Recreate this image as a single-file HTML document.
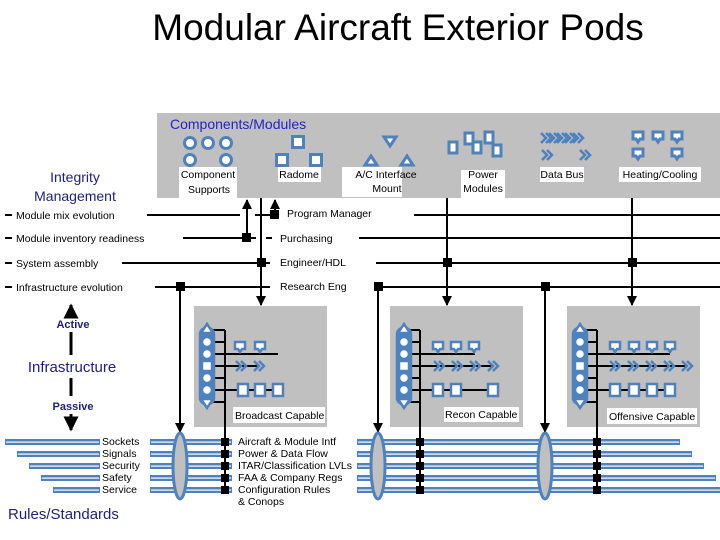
<!DOCTYPE html>
<html><head><meta charset="utf-8"><style>
html,body{margin:0;padding:0;background:#fff}
svg{display:block}
text{font-family:"Liberation Sans",sans-serif}
</style></head><body>
<svg id="s" width="720" height="540" viewBox="0 0 720 540" xmlns="http://www.w3.org/2000/svg">
<defs>
<marker id="ar" viewBox="0 0 10 10" refX="9" refY="5" markerWidth="5" markerHeight="5" orient="auto"><path d="M0,0L10,5L0,10z" fill="#000"/></marker>
</defs>
<text x="398" y="40" font-size="37" text-anchor="middle" fill="#000">Modular Aircraft Exterior Pods</text>
<rect x="157" y="113" width="563" height="85" fill="#c0c0c0"/>
<text x="170" y="129" font-size="14" fill="#2323c8">Components/Modules</text>
<g id="icons" stroke="#4f81bd" stroke-width="3" fill="#fff"></g>
<g font-size="10.5" fill="#000" text-anchor="middle">
<rect x="179" y="167" width="58" height="31" fill="#fff"/>
<text x="208" y="178">Component</text><text x="209" y="193">Supports</text>
<rect x="278" y="167" width="43" height="15" fill="#fff"/><text x="299" y="178">Radome</text>
<rect x="342" y="167" width="60" height="30" fill="#fff"/>
<text x="386" y="178">A/C Interface</text><text x="387" y="192">Mount</text>
<rect x="461" y="170" width="44" height="28" fill="#fff"/>
<text x="483" y="178">Power</text><text x="483" y="192">Modules</text>
<rect x="540" y="167" width="44" height="15" fill="#fff"/><text x="562" y="178">Data Bus</text>
<rect x="619" y="167" width="82" height="15" fill="#fff"/><text x="660" y="178">Heating/Cooling</text>
</g>
<g fill="#1f1f80" text-anchor="middle">
<text x="75" y="182" font-size="14">Integrity</text>
<text x="75" y="201" font-size="14">Management</text>
</g>
<g font-size="10.5" fill="#000">
<text x="16" y="219">Module mix evolution</text>
<text x="16" y="242">Module inventory readiness</text>
<text x="16" y="267">System assembly</text>
<text x="16" y="291">Infrastructure evolution</text>
<text x="287" y="217">Program Manager</text>
<text x="280" y="242">Purchasing</text>
<text x="280" y="266">Engineer/HDL</text>
<text x="280" y="290">Research Eng</text>
</g>
<g stroke="#000" stroke-width="2" fill="none">
<path d="M5,215H12M147,215H240M255,215H270M414,215H720"/>
<path d="M5,238H12M183,238H256M266,238H272M359,238H720"/>
<path d="M5,263H12M122,263H270M376,263H720"/>
<path d="M5,287H12M155,287H270M374,287H720"/>
<path d="M247,238V200" marker-end="url(#ar)"/>
<path d="M275,215V200" marker-end="url(#ar)"/>
<path d="M261,198V305" marker-end="url(#ar)"/>
<path d="M447,198V305" marker-end="url(#ar)"/>
<path d="M632,198V305" marker-end="url(#ar)"/>
<path d="M180,287V432" marker-end="url(#ar)"/>
<path d="M378,287V432" marker-end="url(#ar)"/>
<path d="M545,287V432" marker-end="url(#ar)"/>
<path d="M71,332V355M71,378V396" stroke-width="3"/>
<path d="M71,316V305" stroke-width="3" marker-end="url(#ar)"/>
<path d="M71,414V430" stroke-width="3" marker-end="url(#ar)"/>
</g>
<g fill="#000">
<rect x="242" y="233" width="9" height="9"/>
<rect x="270" y="210" width="9" height="9"/>
<rect x="257" y="258" width="9" height="9"/>
<rect x="443" y="258" width="9" height="9"/>
<rect x="628" y="258" width="9" height="9"/>
<rect x="176" y="282" width="9" height="9"/>
<rect x="374" y="282" width="9" height="9"/>
<rect x="541" y="282" width="9" height="9"/>
</g>
<g fill="#1f1f80" font-weight="bold" text-anchor="middle">
<text x="73" y="328" font-size="11">Active</text>
<text x="72" y="372" font-size="15" font-weight="normal">Infrastructure</text>
<text x="73" y="410" font-size="11">Passive</text>
</g>
<text x="8" y="519" font-size="15" fill="#1f1f80">Rules/Standards</text>
<g id="boxes"></g>
<g id="rules"></g>
<g font-size="10.5" fill="#000">
<text x="102" y="445">Sockets</text><text x="102" y="457">Signals</text><text x="102" y="469">Security</text><text x="102" y="481">Safety</text><text x="102" y="493">Service</text>
<text x="238" y="445">Aircraft &amp; Module Intf</text><text x="238" y="457">Power &amp; Data Flow</text><text x="238" y="469">ITAR/Classification LVLs</text><text x="238" y="481">FAA &amp; Company Regs</text><text x="238" y="493">Configuration Rules</text><text x="238" y="505">&amp; Conops</text>
</g>
<g id="lab" font-size="10.5" fill="#000">
<rect x="233" y="407" width="92" height="16" fill="#fff"/><text x="235" y="419">Broadcast Capable</text>
<rect x="444" y="407" width="75" height="15" fill="#fff"/><text x="445" y="418">Recon Capable</text>
<rect x="607" y="408" width="90" height="16" fill="#fff"/><text x="609" y="420">Offensive Capable</text>
</g>
</svg>
<script>
var NS="http://www.w3.org/2000/svg";
function el(p,t,a){var e=document.createElementNS(NS,t);for(var k in a)e.setAttribute(k,a[k]);p.appendChild(e);return e;}
var B="#4f81bd";
var ic=document.getElementById('icons');
[[190,143],[208,143],[226,143],[190,160],[226,160]].forEach(function(c){el(ic,'circle',{cx:c[0],cy:c[1],r:5.5});});
[[298,142],[282,160],[316,160]].forEach(function(c){el(ic,'rect',{x:c[0]-5.5,y:c[1]-5.5,width:11,height:11});});
el(ic,'path',{d:'M384,137H396L390,146Z'});
el(ic,'path',{d:'M365,165H377L371,156Z'});el(ic,'path',{d:'M401,165H413L407,156Z'});
[[453,147],[469,138],[477,147],[489,137],[497,150]].forEach(function(c){el(ic,'rect',{x:c[0]-4,y:c[1]-5,width:8,height:11});});
function chev(g,x,y){el(g,'path',{d:'M'+(x-4)+','+(y-5)+'L'+(x+1)+','+y+'L'+(x-4)+','+(y+5)+'M'+(x+1)+','+(y-5)+'L'+(x+6)+','+y+'L'+(x+1)+','+(y+5),fill:'none','stroke-width':2.5});}
[545,553,561,569,577].forEach(function(x){chev(ic,x,138);});
chev(ic,546,155);chev(ic,584,155);
function heat(g,x,y){el(g,'path',{d:'M'+(x-5)+','+(y-4)+'H'+(x+5)+'V'+(y+3)+'H'+(x+2)+'L'+x+','+(y+6)+'L'+(x-2)+','+(y+3)+'H'+(x-5)+'Z'});}
[[638,136],[658,136],[677,136],[638,153],[677,153]].forEach(function(c){heat(ic,c[0],c[1]);});
var bx=document.getElementById('boxes');
var pods=[{x:194,c:207,bus:225,h:[240,260],ch:[240,258],sq:[243,260,278],hl:278,sl:280},
{x:390,c:404,bus:420,h:[438,456,474],ch:[438,456,474,492],sq:[438,456,493],hl:475,sl:493},
{x:567,c:580,bus:597,h:[615,634,652,670],ch:[614,632,650,668,686],sq:[615,634,652,670],hl:670,sl:670}];
pods.forEach(function(p){
 el(bx,'rect',{x:p.x,y:306,width:133,height:121,fill:'#c0c0c0'});
 var g=el(bx,'g',{stroke:'#000','stroke-width':2,fill:'none'});
 el(g,'path',{d:'M'+p.bus+',330V492'});
 [330,342,354,366,378,390,402].forEach(function(y){el(g,'path',{d:'M'+p.c+','+y+'H'+p.bus});});
 el(g,'path',{d:'M'+p.bus+',354H'+p.hl+'M'+p.bus+',366H'+(p.ch[p.ch.length-1])+'M'+p.bus+',390H'+p.sl});
 var s=el(bx,'g',{stroke:B,'stroke-width':2.5,fill:'#fff'});
 el(s,'rect',{x:p.c-7,y:328,width:14,height:76,rx:6,fill:B});
 el(s,'path',{d:'M'+(p.c-6)+',333L'+p.c+',324L'+(p.c+6)+',333Z'});
 el(s,'path',{d:'M'+(p.c-6)+',399L'+p.c+',408L'+(p.c+6)+',399Z'});
 [342,354,378,390].forEach(function(y){el(s,'circle',{cx:p.c,cy:y,r:5});});
 el(s,'rect',{x:p.c-5,y:361,width:10,height:10});
 p.h.forEach(function(x){heat(s,x,346);});
 p.ch.forEach(function(x){chev(s,x,366);});
 p.sq.forEach(function(x){el(s,'rect',{x:x-5,y:384,width:10,height:12});});
});
var r=document.getElementById('rules');
var ys=[442,454,466,478,490];
ys.forEach(function(y,i){
 var segs=[[5+i*12,100],[150,232],[357,680+i*12]];
 segs.forEach(function(sg){
  el(r,'rect',{x:sg[0],y:y-3,width:sg[1]-sg[0],height:6,fill:B});
  el(r,'rect',{x:sg[0]+1,y:y-0.5,width:sg[1]-sg[0]-2,height:1.2,fill:'#fff'});
 });
});
[180,378,545].forEach(function(x){el(r,'ellipse',{cx:x,cy:466,rx:7,ry:33,fill:'#c0c0c0',stroke:B,'stroke-width':3});});
[225,420,597].forEach(function(x){
 el(r,'path',{d:'M'+x+',330V492',stroke:'#000','stroke-width':2});
 ys.forEach(function(y){el(r,'rect',{x:x-4,y:y-4,width:8,height:8,fill:'#000'});});
});
</script>
</body></html>
